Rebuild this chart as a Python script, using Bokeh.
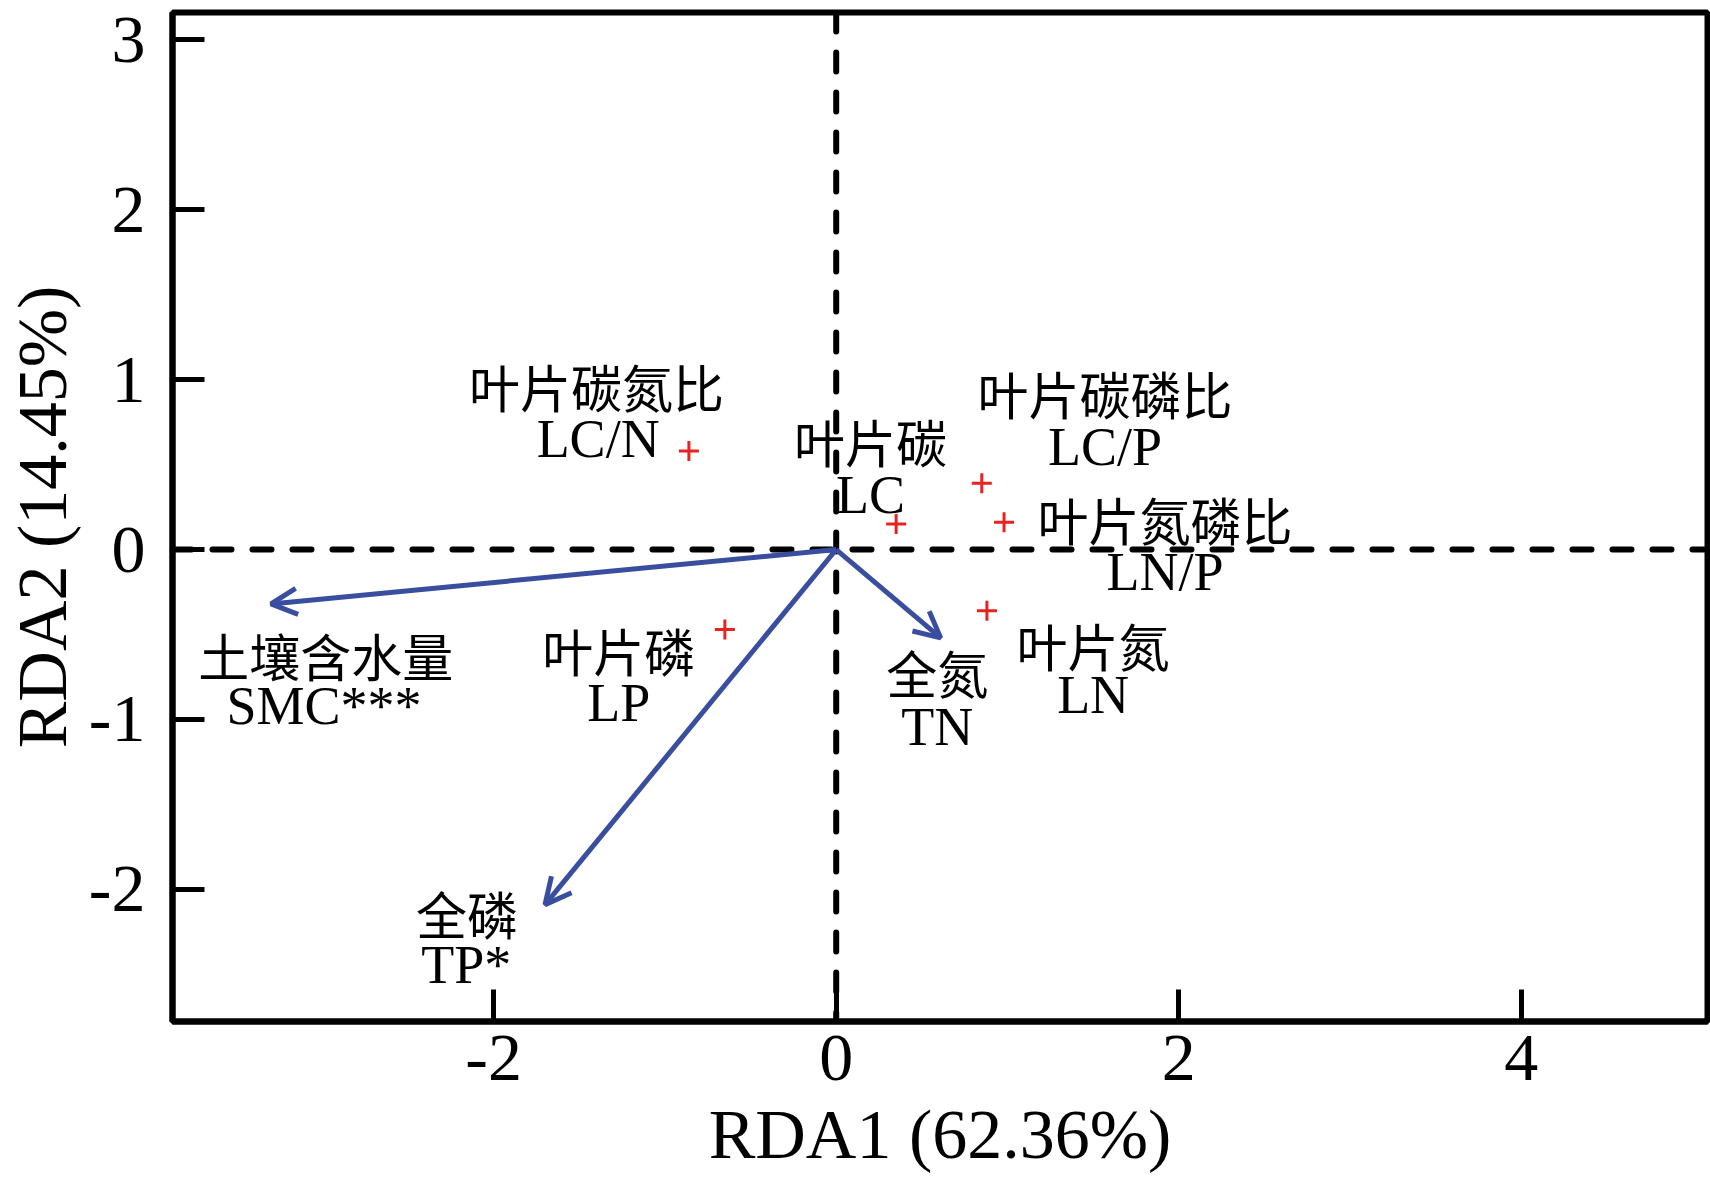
from bokeh.plotting import figure
from bokeh.models import (ColumnDataSource, Arrow, OpenHead, Span, FixedTicker, Range1d,
                          CustomJSTickFormatter)
from bokeh.core.properties import value
from bokeh.embed import file_html
from bokeh.resources import INLINE

# ---- data ----
resp_codes = ["LC/N", "LC", "LC/P", "LN/P", "LN", "LP"]
resp_names = ["叶片碳氮比", "叶片碳", "叶片碳磷比", "叶片氮磷比", "叶片氮", "叶片磷"]
resp_rda1 = [-0.86, 0.35, 0.85, 0.98, 0.88, -0.65]
resp_rda2 = [0.58, 0.15, 0.39, 0.16, -0.36, -0.47]

env_codes = ["SMC***", "TP*", "TN"]
env_names = ["土壤含水量", "全磷", "全氮"]
env_rda1 = [-3.30, -1.70, 0.61]
env_rda2 = [-0.32, -2.09, -0.52]

x_ticks = [-2, 0, 2, 4]
y_ticks = [-2, -1, 0, 1, 2, 3]
x_title = "RDA1 (62.36%)"
y_title = "RDA2 (14.45%)"

# ---- label placement (annotation positions, centre of each text line) ----
resp_name_x = [-1.40, 0.20, 1.57, 1.92, 1.50, -1.27]
resp_name_y = [0.96, 0.64, 0.92, 0.18, -0.56, -0.59]
resp_code_x = [-1.39, 0.20, 1.57, 1.92, 1.50, -1.27]
resp_code_y = [0.65, 0.32, 0.605, -0.13, -0.855, -0.905]
env_name_x = [-2.98, -2.155, 0.59]
env_name_y = [-0.62, -2.14, -0.72]
env_code_x = [-2.99, -2.16, 0.59]
env_code_y = [-0.92, -2.445, -1.045]

BLUE = "#3a4ea0"
RED = "#e8221e"
SERIF = value("Liberation Serif")
CJK = value("Noto Sans CJK SC")

p = figure(width=1710, height=1186, output_backend="svg", toolbar_location=None,
           x_range=Range1d(-3.875, 5.087), y_range=Range1d(-2.778, 3.161),
           min_border_left=171, min_border_right=3, min_border_top=12, min_border_bottom=165)
p.grid.visible = False
p.background_fill_color = "white"
p.border_fill_color = "white"
p.outline_line_color = "black"
p.outline_line_width = 6

for ax, ticks in ((p.xaxis[0], x_ticks), (p.yaxis[0], y_ticks)):
    ax.ticker = FixedTicker(ticks=ticks)
    ax.formatter = CustomJSTickFormatter(code="return tick.toString();")
    ax.major_tick_in = 32
    ax.major_tick_out = 0
    ax.minor_tick_line_color = None
    ax.axis_line_width = 6
    ax.axis_line_color = "black"
    ax.major_tick_line_width = 5
    ax.major_tick_line_color = "black"
    ax.major_label_text_font = "Liberation Serif"
    ax.major_label_text_font_size = "68px"
    ax.major_label_text_color = "black"
    ax.axis_label_text_font = "Liberation Serif"
    ax.axis_label_text_font_size = "70px"
    ax.axis_label_text_font_style = "normal"
    ax.axis_label_text_color = "black"

p.xaxis.axis_label = x_title
p.yaxis.axis_label = y_title
p.xaxis.major_label_standoff = 14
p.xaxis.axis_label_standoff = 13
p.yaxis.major_label_standoff = 27
p.yaxis.axis_label_standoff = 5

# dashed zero lines
for dim in ("width", "height"):
    p.add_layout(Span(location=0, dimension=dim, line_color="black", line_width=6,
                      line_dash="19 21", line_cap="round"))

# environmental arrows
arr_src = ColumnDataSource(dict(x0=[0] * len(env_rda1), y0=[0] * len(env_rda2),
                                x1=env_rda1, y1=env_rda2))
p.add_layout(Arrow(end=OpenHead(size=26, line_color=BLUE, line_width=5),
                   source=arr_src, x_start="x0", y_start="y0", x_end="x1", y_end="y1",
                   line_color=BLUE, line_width=5))

# response points
p.scatter(resp_rda1, resp_rda2, marker="cross", size=20, line_color=RED, line_width=3)

# labels
p.text(resp_name_x, resp_name_y, text=resp_names, text_font=CJK, text_font_size="51px",
       text_align="center", text_baseline="middle", text_color="black")
p.text(resp_code_x, resp_code_y, text=resp_codes, text_font=SERIF, text_font_size="54px",
       text_align="center", text_baseline="middle", text_color="black")
p.text(env_name_x, env_name_y, text=env_names, text_font=CJK, text_font_size="51px",
       text_align="center", text_baseline="middle", text_color="black")
p.text(env_code_x, env_code_y, text=env_codes, text_font=SERIF, text_font_size="54px",
       text_align="center", text_baseline="middle", text_color="black")

open("out.html", "w").write(file_html(p, INLINE))
